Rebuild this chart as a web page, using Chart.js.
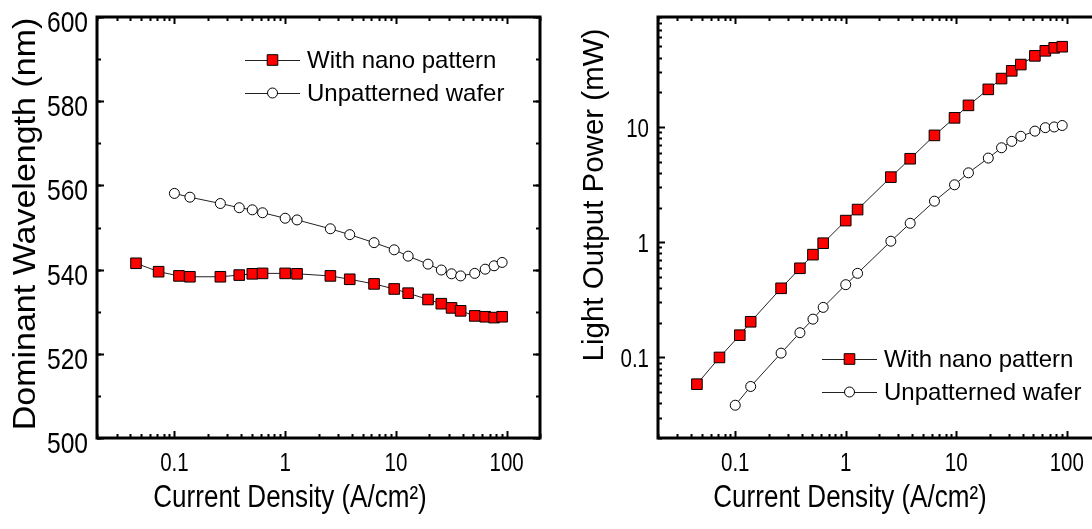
<!DOCTYPE html>
<html><head><meta charset="utf-8">
<script src="https://cdn.jsdelivr.net/npm/chart.js@4.4.0/dist/chart.umd.min.js"></script>
<style>
html,body{margin:0;padding:0;background:#fff;overflow:hidden;width:1092px;height:529px;}
#wrapL{position:absolute;left:0;top:0;width:560px;height:529px;}
#wrapR{position:absolute;left:560px;top:0;width:560px;height:529px;}
canvas{display:block;}
</style></head><body>
<div id="wrapL"><canvas id="cL" width="560" height="529"></canvas></div>
<div id="wrapR"><canvas id="cR" width="560" height="529"></canvas></div>
<script>
// ---- data ----
const seriesNames = ['With nano pattern', 'Unpatterned wafer'];
const nanoCurrentDensity = [0.045, 0.072, 0.11, 0.138, 0.26, 0.385, 0.505, 0.625, 1.0, 1.28, 2.56, 3.83, 6.35, 9.65, 12.9, 19.5, 25.7, 31.8, 38.4, 51.5, 64, 77, 91];
const unpatternedCurrentDensity = [0.1, 0.138, 0.26, 0.385, 0.505, 0.625, 1.0, 1.28, 2.56, 3.83, 6.35, 9.65, 12.9, 19.5, 25.7, 31.8, 38.4, 51.5, 64, 77, 91];
const nanoWavelength = [541.5, 539.5, 538.5, 538.3, 538.3, 538.7, 539.0, 539.1, 539.1, 539.0, 538.5, 537.7, 536.6, 535.4, 534.4, 532.9, 531.9, 530.9, 530.2, 529.0, 528.8, 528.6, 528.8];
const unpatternedWavelength = [558.1, 557.2, 555.7, 554.7, 554.2, 553.5, 552.2, 551.8, 549.7, 548.3, 546.4, 544.7, 543.2, 541.3, 539.9, 539.0, 538.5, 539.1, 540.1, 540.9, 541.7];
const nanoPower = [0.0586, 0.1, 0.156, 0.204, 0.398, 0.594, 0.78, 0.98, 1.54, 1.92, 3.67, 5.3, 8.45, 12.0, 15.4, 21.2, 26.3, 30.7, 34.8, 41.4, 45.8, 48.6, 49.7];
const unpatternedPower = [0.0385, 0.056, 0.109, 0.164, 0.215, 0.272, 0.428, 0.537, 1.02, 1.46, 2.27, 3.15, 4.0, 5.37, 6.6, 7.5, 8.3, 9.2, 9.86, 10.0, 10.3];
const xTickValues = [0.1, 1, 10, 100];
const xTickLabels = ['0.1', '1', '10', '100'];
const wavelengthTickValues = [500, 520, 540, 560, 580, 600];
const wavelengthTickLabels = ['500', '520', '540', '560', '580', '600'];
const powerTickValues = [0.1, 1, 10];
const powerTickLabels = ['0.1', '1', '10'];
const xTitle = 'Current Density (A/cm²)';
const wavelengthTitle = 'Dominant Wavelength (nm)';
const powerTitle = 'Light Output Power (mW)';

const SANS = "'Liberation Sans', Arial, sans-serif";

function logMinors(min, max) {
  const out = [];
  for (let e = Math.floor(Math.log10(min)); e <= Math.ceil(Math.log10(max)); e++) {
    for (let m = 2; m <= 9; m++) {
      const v = m * Math.pow(10, e);
      if (v >= min * 0.999 && v <= max * 1.001) out.push(v);
    }
  }
  return out;
}
function linMinors(min, max, step) {
  const out = [];
  for (let v = min; v <= max + 1e-9; v += step) out.push(v);
  return out;
}

// text squeezed horizontally like the reference's condensed lettering
function squeezedText(ctx, text, x, y, font, sx, align) {
  ctx.save();
  ctx.translate(x, y);
  ctx.scale(sx, 1);
  ctx.font = font;
  ctx.textAlign = align;
  ctx.textBaseline = 'alphabetic';
  ctx.fillText(text, 0, 0);
  ctx.restore();
}

const framePlugin = {
  id: 'frame',
  afterDraw(chart, args, o) {
    const {ctx, chartArea: a} = chart;
    const xs = chart.scales.x, ys = chart.scales.y;
    ctx.save();
    ctx.strokeStyle = '#000';
    ctx.fillStyle = '#000';
    ctx.lineCap = 'butt';
    const seg = (x1, y1, x2, y2) => { ctx.beginPath(); ctx.moveTo(x1, y1); ctx.lineTo(x2, y2); ctx.stroke(); };
    ctx.lineWidth = 2;
    const xt = (v, len) => { const p = Math.round(xs.getPixelForValue(v)) + 0.5; seg(p, a.bottom, p, a.bottom - len); seg(p, a.top, p, a.top + len); };
    const yt = (v, len) => { const p = Math.round(ys.getPixelForValue(v)) + 0.5; seg(a.left, p, a.left + len, p); seg(a.right, p, a.right - len, p); };
    o.xMinor.forEach(v => xt(v, 4));
    o.xMajor.forEach(v => xt(v, 7));
    o.yMinor.forEach(v => yt(v, 4));
    o.yMajor.forEach(v => yt(v, 7));
    ctx.lineWidth = 3;
    ctx.strokeRect(a.left, a.top, a.right - a.left, a.bottom - a.top);

    // tick labels, positioned by the library's scales
    const TL = o.tickLabels;
    o.xMajor.forEach((v, i) => {
      squeezedText(ctx, o.xLabels[i], xs.getPixelForValue(v), a.bottom + TL.xDrop, TL.xFont, TL.xSx, 'center');
    });
    o.yMajor.forEach((v, i) => {
      squeezedText(ctx, o.yLabels[i], a.left - TL.yGap, ys.getPixelForValue(v) + TL.yDrop, TL.yFont, TL.ySx, 'right');
    });

    // legend (line - marker - line, then text)
    const L = o.legend;
    chart.data.datasets.forEach((ds, i) => {
      const y = L.y + i * L.gap;
      ctx.lineWidth = 1;
      ctx.strokeStyle = ds.borderColor;
      seg(L.x, y + 0.5, L.x + 55, y + 0.5);
      const cx = L.x + 27.5;
      ctx.lineWidth = ds.pointBorderWidth;
      ctx.strokeStyle = ds.pointBorderColor;
      ctx.fillStyle = ds.pointBackgroundColor;
      ctx.beginPath();
      if (ds.pointStyle === 'rect') {
        const s = ds.pointRadius * Math.SQRT1_2;
        ctx.rect(cx - s, y - s, 2 * s, 2 * s);
      } else {
        ctx.arc(cx, y, ds.pointRadius, 0, Math.PI * 2);
      }
      ctx.fill(); ctx.stroke();
      ctx.fillStyle = '#000';
      ctx.font = L.font;
      ctx.textAlign = 'left';
      ctx.textBaseline = 'middle';
      ctx.fillText(ds.label, L.x + 62, y + 1);
    });

    // axis titles
    ctx.fillStyle = '#000';
    const T = o.titles;
    squeezedText(ctx, T.xText, T.xCenter, T.xBaseline, T.xFont, T.xSx, 'center');
    ctx.save();
    ctx.translate(T.yBaseline, T.yCenter);
    ctx.rotate(-Math.PI / 2);
    ctx.scale(1, T.yScale);
    ctx.font = T.yFont;
    ctx.textAlign = 'center';
    ctx.textBaseline = 'alphabetic';
    ctx.fillText(T.yText, 0, 0);
    ctx.restore();
    ctx.restore();
  }
};

function makeChart(id, cfg) {
  const ds = [
    {
      label: seriesNames[0],
      data: cfg.nanoY.map((y, i) => ({x: nanoCurrentDensity[i], y})),
      borderColor: '#222', borderWidth: 1, tension: 0, fill: false,
      pointStyle: 'rect', pointRadius: 7.5, pointBackgroundColor: '#ff0000',
      pointBorderColor: '#000', pointBorderWidth: 1
    },
    {
      label: seriesNames[1],
      data: cfg.unpatY.map((y, i) => ({x: unpatternedCurrentDensity[i], y})),
      borderColor: '#222', borderWidth: 1, tension: 0, fill: false,
      pointStyle: 'circle', pointRadius: 5, pointBackgroundColor: '#ffffff',
      pointBorderColor: '#000', pointBorderWidth: 1
    }
  ];
  return new Chart(document.getElementById(id), {
    type: 'line',
    data: {datasets: ds},
    plugins: [framePlugin],
    options: {
      responsive: false, animation: false, events: [],
      layout: {padding: {left: 0, top: 17, right: cfg.padRight, bottom: 0}},
      plugins: {
        legend: {display: false}, tooltip: {enabled: false},
        frame: {
          xMajor: xTickValues, xLabels: xTickLabels, xMinor: logMinors(0.02, 200),
          yMajor: cfg.yTicks, yLabels: cfg.yLabels, yMinor: cfg.yMinor,
          tickLabels: {
            xFont: '25px ' + SANS, xSx: 0.82, xDrop: 33,
            yFont: cfg.yTickFont, ySx: 0.82, yGap: 9, yDrop: cfg.yDrop
          },
          legend: {x: cfg.legendX, y: cfg.legendY, gap: 33, font: '24px ' + SANS},
          titles: {
            xText: xTitle, xFont: '31px ' + SANS, xSx: 0.84, xCenter: 290, xBaseline: 507,
            yText: cfg.yTitle, yFont: cfg.yTitleFont, yCenter: cfg.yTitleCenter, yBaseline: cfg.yTitleBaseline, yScale: cfg.yTitleScale
          }
        }
      },
      scales: {
        x: {
          type: 'logarithmic', min: 0.02, max: 200,
          grid: {display: false, drawTicks: false}, border: {display: false},
          afterBuildTicks: s => { s.ticks = xTickValues.map(v => ({value: v})); },
          afterFit: s => { s.height = 91; s.paddingLeft = 0; s.paddingRight = 0; },
          ticks: {display: false, autoSkip: false, maxRotation: 0, minRotation: 0}
        },
        y: {
          type: cfg.yType, min: cfg.yMin, max: cfg.yMax,
          grid: {display: false, drawTicks: false}, border: {display: false},
          afterBuildTicks: s => { s.ticks = cfg.yTicks.map(v => ({value: v})); },
          afterFit: s => { s.width = cfg.yWidth; s.paddingTop = 0; s.paddingBottom = 0; },
          ticks: {display: false, autoSkip: false}
        }
      }
    }
  });
}

makeChart('cL', {
  nanoY: nanoWavelength, unpatY: unpatternedWavelength,
  yType: 'linear', yMin: 500, yMax: 600, yTicks: wavelengthTickValues, yLabels: wavelengthTickLabels,
  yMinor: linMinors(500, 600, 10), yWidth: 97, padRight: 20, yTickFont: '30px ' + SANS, yDrop: 15,
  legendX: 245, legendY: 60,
  yTitle: wavelengthTitle, yTitleFont: '34px ' + SANS, yTitleCenter: 224, yTitleBaseline: 35, yTitleScale: 0.9
});
makeChart('cR', {
  nanoY: nanoPower, unpatY: unpatternedPower,
  yType: 'logarithmic', yMin: 0.02, yMax: 90, yTicks: powerTickValues, yLabels: powerTickLabels,
  yMinor: logMinors(0.02, 90), yWidth: 98, padRight: 20, yTickFont: '25px ' + SANS, yDrop: 10,
  legendX: 262, legendY: 359,
  yTitle: powerTitle, yTitleFont: '29.5px ' + SANS, yTitleCenter: 195, yTitleBaseline: 43, yTitleScale: 1
});
</script>
</body></html>
